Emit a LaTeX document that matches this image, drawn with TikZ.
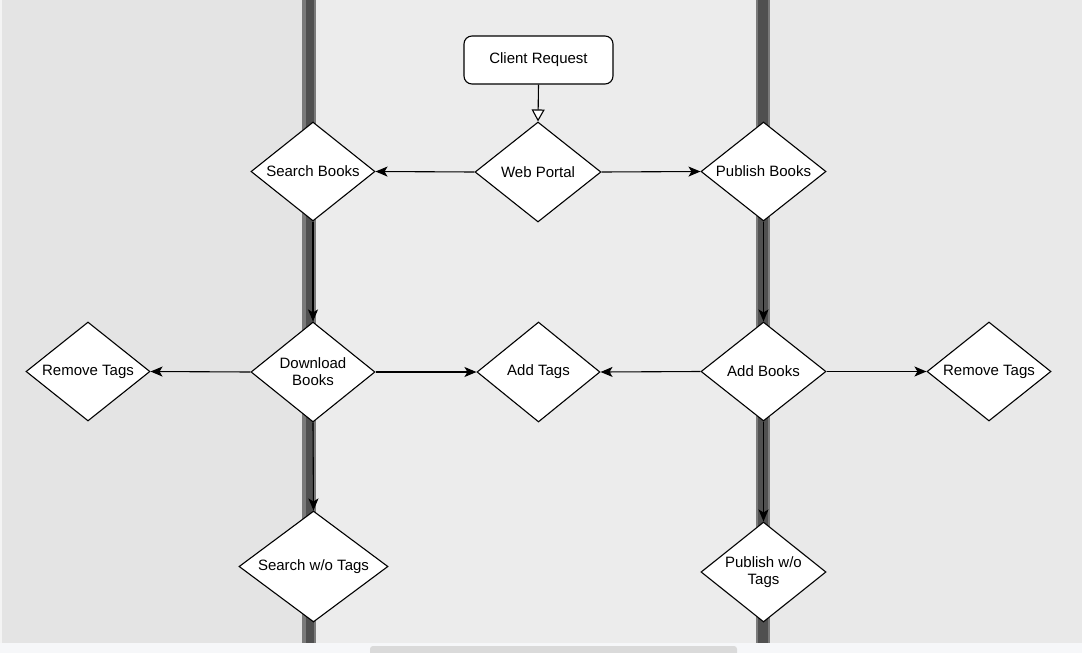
\documentclass[tikz,border=0pt]{standalone}
\usepackage{fontspec}
\setmainfont{Liberation Sans}
\usetikzlibrary{shapes.geometric,arrows.meta}
\definecolor{wood}{HTML}{E4E4E4}
\definecolor{woodlight}{HTML}{ECECEC}
\definecolor{gapdark}{HTML}{505050}
\definecolor{gapmid}{HTML}{7A7A7A}
\definecolor{barbg}{HTML}{F6F7F9}
\definecolor{thumb}{HTML}{DADADA}
\begin{document}
\begin{tikzpicture}[x=1pt,y=-1pt,
  dia/.style={diamond, aspect=1.25, draw=black, fill=white, line width=1.1pt, inner sep=0pt,
    align=center, font=\fontsize{15}{17}\selectfont},
  rbox/.style={rectangle, rounded corners=8pt, draw=black, fill=white, line width=1.1pt,
    align=center, font=\fontsize{15}{17}\selectfont, minimum width=149pt, minimum height=48pt},
  arr/.style={line width=1.1pt, -{Stealth[length=12pt,width=10pt,inset=3pt]}},
  openarr/.style={line width=1.1pt, -{Triangle[length=12pt,width=13pt,fill=white]}}
]
\useasboundingbox (0,0) rectangle (1082,653);
% background wood
\fill[wood] (0,0) rectangle (1082,643);
\fill[woodlight] (316,0) rectangle (757,643);
\fill[woodlight!60!wood] (769,0) rectangle (1082,643);
\fill[white!60!wood] (0,0) rectangle (2,643);
% plank gaps
\fill[gapmid] (302,0) rectangle (316,643);
\fill[gapdark] (306,0) rectangle (314,643);
\fill[gapmid] (756,0) rectangle (770,643);
\fill[gapdark] (758,0) rectangle (768,643);
% bottom scroll bar
\fill[barbg] (0,643) rectangle (1082,653);
\fill[thumb, rounded corners=3pt] (370,646) rectangle (737,656);

% nodes
\node[rbox] (cr) at (538.5,60) {Client Request};
\node[dia, minimum width=126pt, minimum height=100pt] (wp) at (538,172) {Web Portal};
\node[dia, minimum width=124pt, minimum height=99pt] (sb) at (313,171.5) {Search Books};
\node[dia, minimum width=125pt, minimum height=99pt] (pb) at (763.5,171.5) {Publish Books};
\node[dia, minimum width=124pt, minimum height=100pt] (db) at (313,372) {Download\\Books};
\node[dia, minimum width=123pt, minimum height=100pt] (at) at (538.5,372) {Add Tags};
\node[dia, minimum width=125pt, minimum height=99pt] (ab) at (763.5,371.5) {Add Books};
\node[dia, minimum width=124pt, minimum height=99pt] (rtl) at (88,371.5) {Remove Tags};
\node[dia, minimum width=124pt, minimum height=99pt] (rtr) at (989,371.5) {Remove Tags};
\node[dia, minimum width=149pt, minimum height=111pt] (sw) at (313.5,566.5) {Search w/o Tags};
\node[dia, minimum width=125pt, minimum height=100pt] (pw) at (763.5,572) {Publish w/o\\Tags};

% connectors
\draw[openarr] (cr.south) -- (wp.north);
\draw[arr] (wp.west) -- (sb.east);
\draw[arr] (wp.east) -- (pb.west);
\draw[arr] (sb.south) -- (db.north);
\draw[arr] (pb.south) -- (ab.north);
\draw[arr] (db.west) -- (rtl.east);
\draw[arr] (db.east) -- (at.west);
\draw[arr] (ab.west) -- (at.east);
\draw[arr] (ab.east) -- (rtr.west);
\draw[arr] (db.south) -- (sw.north);
\draw[arr] (ab.south) -- (pw.north);
\end{tikzpicture}
\end{document}
